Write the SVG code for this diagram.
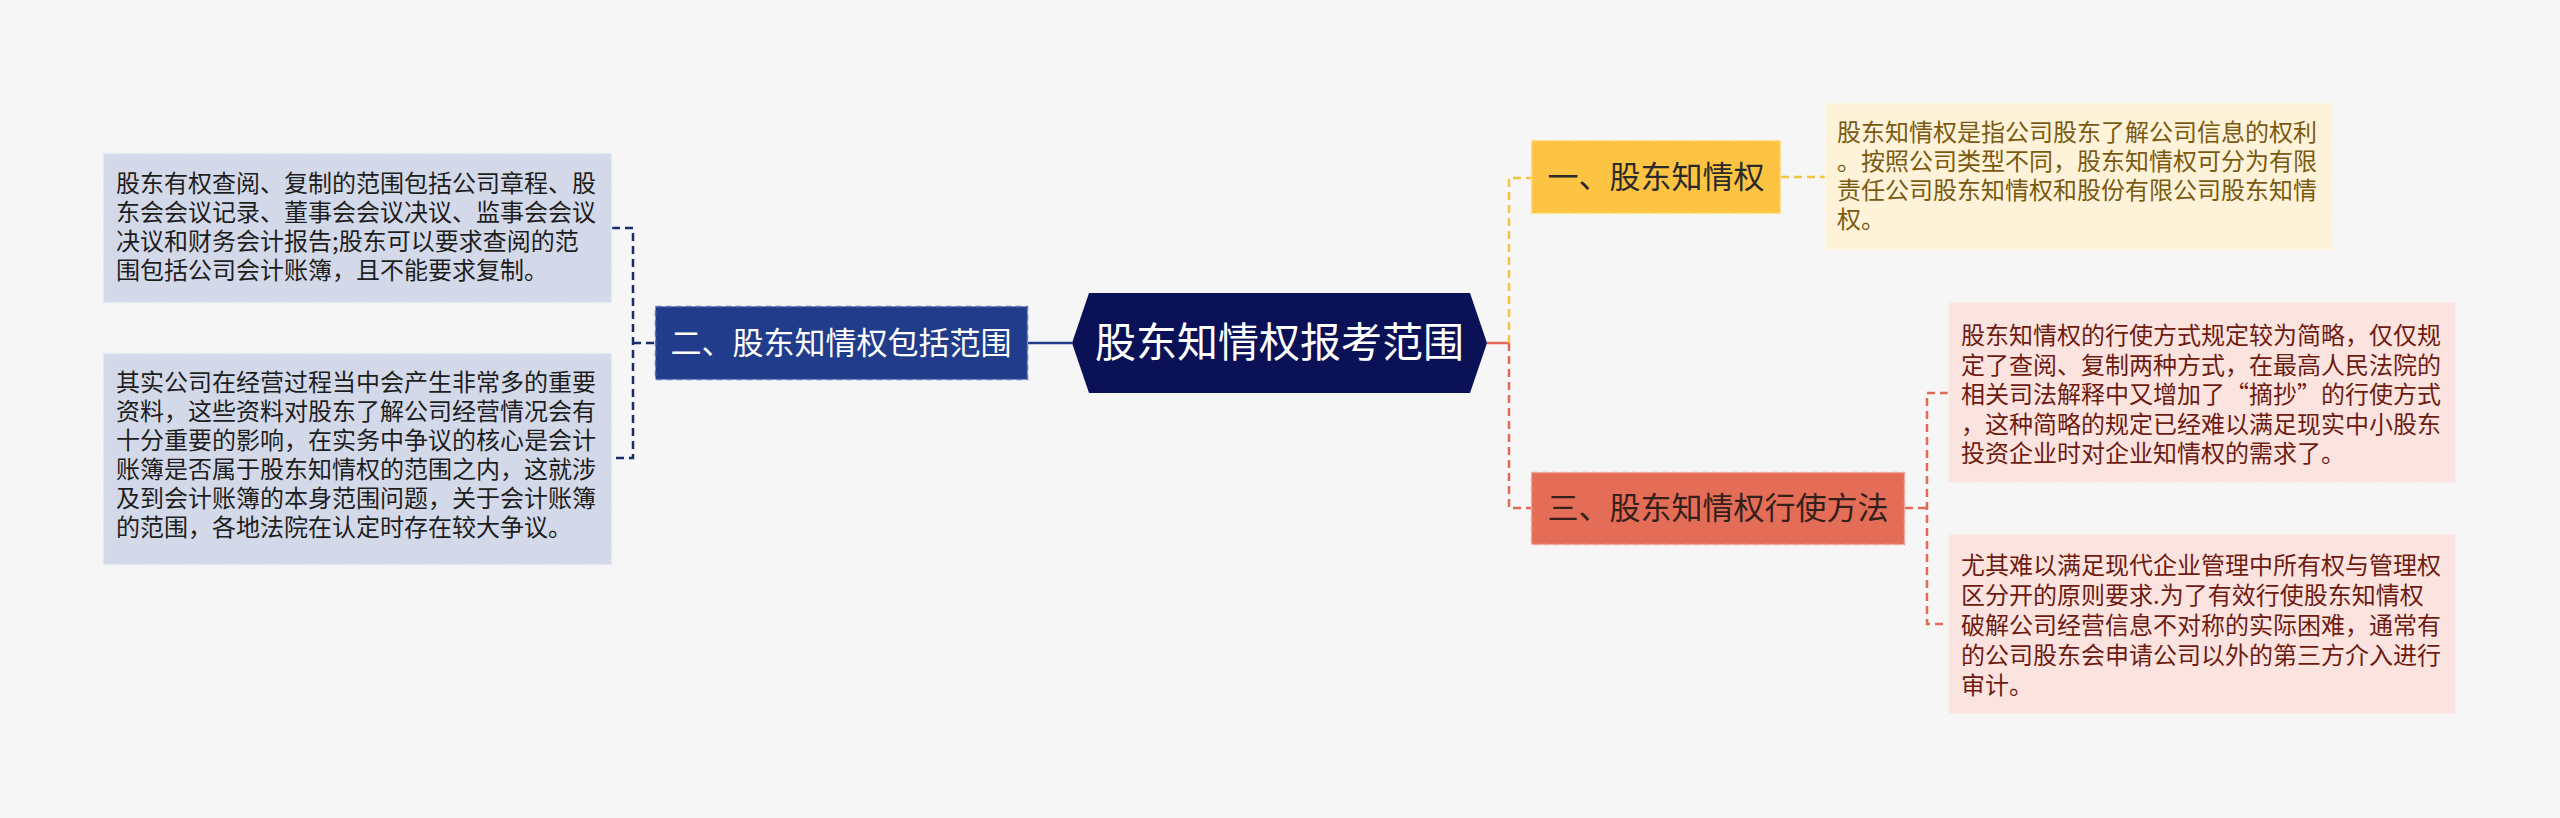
<svg xmlns="http://www.w3.org/2000/svg" width="2560" height="818" viewBox="0 0 2560 818">
<style>
.t{font-family:"Noto Sans CJK SC","Noto Sans",sans-serif;}
.leaf{font-size:24px;}
.main{font-size:31px;}
.conn{fill:none;stroke-width:2.5;}
.dash{stroke-dasharray:8 5;}
</style>
<rect width="2560" height="818" fill="#F6F6F7"/>
<g id="connectors">
  <path class="conn dash" stroke="#1B2C6B" d="M612 228 H633 V458 H612 M633 343 H655"/>
  <path class="conn" stroke="#213C8B" d="M1028 343 H1072"/>
  <path class="conn" stroke="#E06A55" d="M1487 343 H1509"/>
  <path class="conn dash" stroke="#F5C342" d="M1509 343 V178 H1531"/>
  <path class="conn dash" stroke="#E06A55" d="M1509 343 V508 H1531"/>
  <path class="conn dash" stroke="#F5C342" d="M1781 177 H1825"/>
  <path class="conn dash" stroke="#E06A55" d="M1905 508 H1927 M1948 393 H1927 V624 H1948"/>
</g>
<g id="root">
  <polygon points="1072,343 1089,293 1470,293 1487,343 1470,393 1089,393" fill="#0B1157"/>
  <text class="t" x="1279.5" y="357" font-size="41" fill="#FFFFFF" text-anchor="middle">股东知情权报考范围</text>
</g>
<g id="n2">
  <rect x="655.5" y="306.5" width="372" height="73" fill="#213C8B" stroke="#5F78BC" stroke-dasharray="6 4" stroke-width="1.5"/>
  <text class="t main" x="841" y="354" fill="#FFFFFF" text-anchor="middle">二、股东知情权包括范围</text>
</g>
<g id="n1">
  <rect x="1531.5" y="140.5" width="249" height="73" fill="#FDC443" stroke="#FFE19A" stroke-dasharray="6 4" stroke-width="1.5"/>
  <text class="t main" x="1656" y="188" fill="#2A2A2A" text-anchor="middle">一、股东知情权</text>
</g>
<g id="n3">
  <rect x="1531.5" y="472.5" width="373" height="72" fill="#E46D58" stroke="#F2A597" stroke-dasharray="6 4" stroke-width="1.5"/>
  <text class="t main" x="1718" y="519" fill="#35201A" text-anchor="middle">三、股东知情权行使方法</text>
</g>
<g id="leaf-l1">
  <rect x="103.5" y="153.5" width="508" height="149" fill="#D3D9E9" stroke="#E6EAF3" stroke-dasharray="6 4" stroke-width="1.5"/>
  <text class="t leaf" fill="#1E1E1E">
    <tspan x="116" y="192">股东有权查阅、复制的范围包括公司章程、股</tspan>
    <tspan x="116" y="221">东会会议记录、董事会会议决议、监事会会议</tspan>
    <tspan x="116" y="250">决议和财务会计报告;股东可以要求查阅的范</tspan>
    <tspan x="116" y="279">围包括公司会计账簿，且不能要求复制。</tspan>
  </text>
</g>
<g id="leaf-l2">
  <rect x="103.5" y="353.5" width="508" height="211" fill="#D3D9E9" stroke="#E6EAF3" stroke-dasharray="6 4" stroke-width="1.5"/>
  <text class="t leaf" fill="#1E1E1E">
    <tspan x="116" y="391">其实公司在经营过程当中会产生非常多的重要</tspan>
    <tspan x="116" y="420">资料，这些资料对股东了解公司经营情况会有</tspan>
    <tspan x="116" y="449">十分重要的影响，在实务中争议的核心是会计</tspan>
    <tspan x="116" y="478">账簿是否属于股东知情权的范围之内，这就涉</tspan>
    <tspan x="116" y="507">及到会计账簿的本身范围问题，关于会计账簿</tspan>
    <tspan x="116" y="536">的范围，各地法院在认定时存在较大争议。</tspan>
  </text>
</g>
<g id="leaf-r1">
  <rect x="1825.5" y="103.5" width="507" height="146" fill="#FEF3D8" stroke="#FFF9EA" stroke-dasharray="6 4" stroke-width="1.5"/>
  <text class="t leaf" fill="#7A5A12">
    <tspan x="1837" y="141">股东知情权是指公司股东了解公司信息的权利</tspan>
    <tspan x="1837" y="170">。按照公司类型不同，股东知情权可分为有限</tspan>
    <tspan x="1837" y="199">责任公司股东知情权和股份有限公司股东知情</tspan>
    <tspan x="1837" y="228">权。</tspan>
  </text>
</g>
<g id="leaf-r2">
  <rect x="1948.5" y="302.5" width="507" height="180" fill="#FBE3DF" stroke="#FDF0EE" stroke-dasharray="6 4" stroke-width="1.5"/>
  <text class="t leaf" fill="#6E1C12">
    <tspan x="1961" y="344">股东知情权的行使方式规定较为简略，仅仅规</tspan>
    <tspan x="1961" y="374">定了查阅、复制两种方式，在最高人民法院的</tspan>
    <tspan x="1961" y="403">相关司法解释中又增加了“摘抄”的行使方式</tspan>
    <tspan x="1961" y="433">，这种简略的规定已经难以满足现实中小股东</tspan>
    <tspan x="1961" y="462">投资企业时对企业知情权的需求了。</tspan>
  </text>
</g>
<g id="leaf-r3">
  <rect x="1948.5" y="534.5" width="507" height="179" fill="#FBE3DF" stroke="#FDF0EE" stroke-dasharray="6 4" stroke-width="1.5"/>
  <text class="t leaf" fill="#6E1C12">
    <tspan x="1961" y="574">尤其难以满足现代企业管理中所有权与管理权</tspan>
    <tspan x="1961" y="604">区分开的原则要求.为了有效行使股东知情权</tspan>
    <tspan x="1961" y="634">破解公司经营信息不对称的实际困难，通常有</tspan>
    <tspan x="1961" y="664">的公司股东会申请公司以外的第三方介入进行</tspan>
    <tspan x="1961" y="694">审计。</tspan>
  </text>
</g>
</svg>
